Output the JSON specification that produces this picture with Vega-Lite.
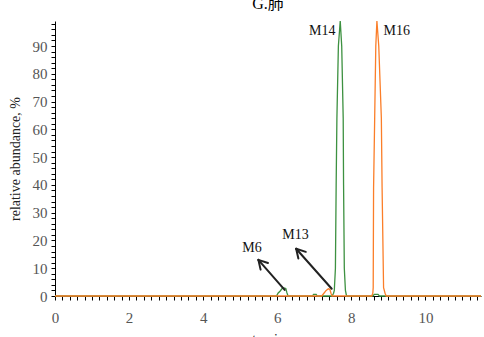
{
  "$schema": "https://vega.github.io/schema/vega-lite/v6.json",
  "autosize": {"type": "none"},
  "width": 426,
  "height": 275,
  "padding": {"left": 55, "top": 21, "right": 3, "bottom": 41},
  "background": "white",
  "title": {"text": "G.肺", "font": "Liberation Serif, Noto Sans CJK SC", "fontSize": 16, "fontWeight": "normal", "color": "#000", "baseline": "alphabetic", "offset": 0, "dy": 8, "anchor": "middle"},
  "config": {
    "view": {"stroke": null},
    "axis": {"labelFont": "Liberation Serif", "titleFont": "Liberation Serif", "labelFontSize": 15, "titleFontSize": 14, "titleFontWeight": "normal", "labelColor": "#555", "titleColor": "#222", "domainColor": "#000", "tickColor": "#000", "grid": false, "tickSize": 4, "domainWidth": 1, "tickWidth": 1}
  },
  "datasets": {
    "green": [
      {"x": 0, "y": 0}, {"x": 5.98, "y": 0}, {"x": 6.02, "y": 1.0}, {"x": 6.08, "y": 1.8}, {"x": 6.13, "y": 2.7}, {"x": 6.18, "y": 2.9}, {"x": 6.23, "y": 2.7}, {"x": 6.26, "y": 1.2}, {"x": 6.29, "y": 0},
      {"x": 6.95, "y": 0}, {"x": 6.98, "y": 0.6}, {"x": 7.05, "y": 0.6}, {"x": 7.08, "y": 0},
      {"x": 7.48, "y": 0}, {"x": 7.52, "y": 1}, {"x": 7.54, "y": 2}, {"x": 7.57, "y": 10}, {"x": 7.59, "y": 40}, {"x": 7.61, "y": 64}, {"x": 7.65, "y": 90}, {"x": 7.70, "y": 99}, {"x": 7.74, "y": 90}, {"x": 7.78, "y": 64}, {"x": 7.79, "y": 40}, {"x": 7.81, "y": 10}, {"x": 7.84, "y": 2}, {"x": 7.87, "y": 0},
      {"x": 8.58, "y": 0}, {"x": 8.62, "y": 0.6}, {"x": 8.72, "y": 0.6}, {"x": 8.76, "y": 0}, {"x": 11.5, "y": 0}
    ],
    "orange": [
      {"x": 0, "y": 0}, {"x": 7.2, "y": 0}, {"x": 7.26, "y": 1}, {"x": 7.32, "y": 2}, {"x": 7.38, "y": 2.6}, {"x": 7.42, "y": 2.4}, {"x": 7.45, "y": 1}, {"x": 7.48, "y": 0},
      {"x": 8.55, "y": 0}, {"x": 8.58, "y": 1}, {"x": 8.59, "y": 3}, {"x": 8.60, "y": 39}, {"x": 8.63, "y": 64}, {"x": 8.66, "y": 90}, {"x": 8.69, "y": 99}, {"x": 8.74, "y": 90}, {"x": 8.81, "y": 64}, {"x": 8.83, "y": 39}, {"x": 8.87, "y": 3}, {"x": 8.91, "y": 1}, {"x": 8.94, "y": 0}, {"x": 11.5, "y": 0}
    ],
    "arrows": [
      {"x": 6.2, "y": 2.2, "x2": 5.49, "y2": 13.0},
      {"x": 5.49, "y": 13.0, "x2": 5.55, "y2": 9.5},
      {"x": 5.49, "y": 13.0, "x2": 5.75, "y2": 11.9},
      {"x": 7.47, "y": 2.6, "x2": 6.51, "y2": 17.0},
      {"x": 6.51, "y": 17.0, "x2": 6.57, "y2": 13.5},
      {"x": 6.51, "y": 17.0, "x2": 6.77, "y2": 15.9}
    ],
    "labels": [
      {"x": 5.32, "y": 17.3, "text": "M6", "pos": "c"},
      {"x": 6.49, "y": 21.9, "text": "M13", "pos": "c"},
      {"x": 7.57, "y": 95.4, "text": "M14", "pos": "r"},
      {"x": 8.87, "y": 95.4, "text": "M16", "pos": "l"}
    ]
  },
  "layer": [
    {
      "data": {"name": "green"},
      "mark": {"type": "line", "color": "#3d9140", "strokeWidth": 1.3},
      "encoding": {
        "x": {"field": "x", "type": "quantitative", "scale": {"domain": [0, 11.5], "nice": false, "zero": false},
          "axis": {"title": "t, min", "tickCount": 1000, "values": [0,0.2,0.4,0.6,0.8,1,1.2,1.4,1.6,1.8,2,2.2,2.4,2.6,2.8,3,3.2,3.4,3.6,3.8,4,4.2,4.4,4.6,4.8,5,5.2,5.4,5.6,5.8,6,6.2,6.4,6.6,6.8,7,7.2,7.4,7.6,7.8,8,8.2,8.4,8.6,8.8,9,9.2,9.4,9.6,9.8,10,10.2,10.4,10.6,10.8,11,11.2,11.4],
            "labelExpr": "abs(datum.value - 2*round(datum.value/2)) < 0.01 ? format(datum.value, 'd') : ''",
            "labelPadding": 10, "titleY": 36.5, "titleBaseline": "top", "labelFlush": false, "labelOverlap": false}},
        "y": {"field": "y", "type": "quantitative", "scale": {"domain": [0, 99], "nice": false},
          "axis": {"title": "relative abundance, %", "tickCount": 1000, "values": [0,2,4,6,8,10,12,14,16,18,20,22,24,26,28,30,32,34,36,38,40,42,44,46,48,50,52,54,56,58,60,62,64,66,68,70,72,74,76,78,80,82,84,86,88,90,92,94,96,98],
            "labelExpr": "datum.value % 10 == 0 ? format(datum.value, 'd') : ''", "labelPadding": 4, "titlePadding": 10, "labelOverlap": false, "labelFlush": false}}
      }
    },
    {
      "data": {"name": "orange"},
      "mark": {"type": "line", "color": "#fb7e29", "strokeWidth": 1.3},
      "encoding": {
        "x": {"field": "x", "type": "quantitative"},
        "y": {"field": "y", "type": "quantitative"}
      }
    },
    {
      "data": {"name": "arrows"},
      "mark": {"type": "rule", "color": "#222", "strokeWidth": 2, "strokeCap": "round"},
      "encoding": {
        "x": {"field": "x", "type": "quantitative"},
        "y": {"field": "y", "type": "quantitative"},
        "x2": {"field": "x2"},
        "y2": {"field": "y2"}
      }
    },
    {
      "data": {"name": "labels"},
      "transform": [{"filter": "datum.pos == 'c'"}],
      "mark": {"type": "text", "font": "Liberation Serif", "fontSize": 14, "color": "#111", "baseline": "middle", "align": "center"},
      "encoding": {
        "x": {"field": "x", "type": "quantitative"},
        "y": {"field": "y", "type": "quantitative"},
        "text": {"field": "text"}
      }
    },
    {
      "data": {"name": "labels"},
      "transform": [{"filter": "datum.pos == 'r'"}],
      "mark": {"type": "text", "font": "Liberation Serif", "fontSize": 14, "color": "#111", "baseline": "middle", "align": "right"},
      "encoding": {
        "x": {"field": "x", "type": "quantitative"},
        "y": {"field": "y", "type": "quantitative"},
        "text": {"field": "text"}
      }
    },
    {
      "data": {"name": "labels"},
      "transform": [{"filter": "datum.pos == 'l'"}],
      "mark": {"type": "text", "font": "Liberation Serif", "fontSize": 14, "color": "#111", "baseline": "middle", "align": "left"},
      "encoding": {
        "x": {"field": "x", "type": "quantitative"},
        "y": {"field": "y", "type": "quantitative"},
        "text": {"field": "text"}
      }
    }
  ]
}
